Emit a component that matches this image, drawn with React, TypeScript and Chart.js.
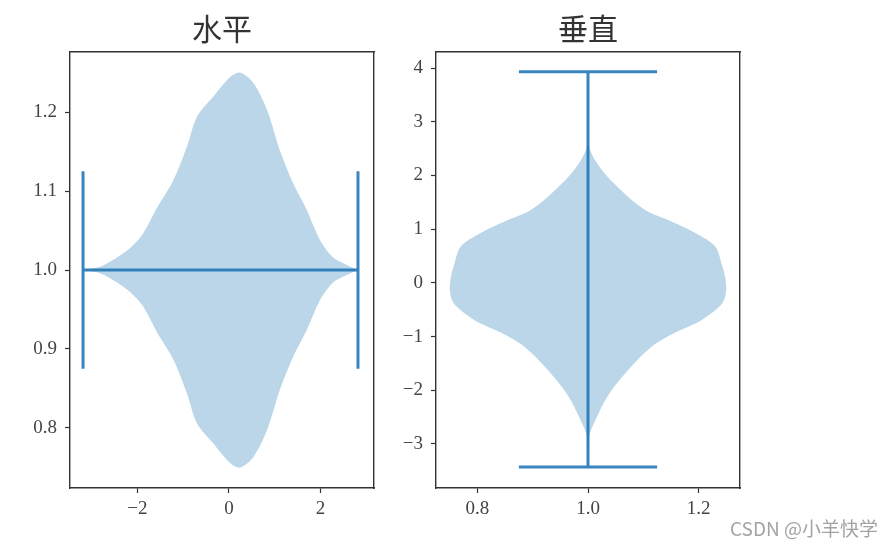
import { useEffect, useRef } from "react";
import { Chart, registerables } from "chart.js";

Chart.register(...registerables);

// horizontal violin (left): positions along x, half widths around y = 1
const horizCenter = 1;
const horizPositions = [-3.19, -2.82, -2.5, -2.16, -1.88, -1.57, -1.22, -0.92, -0.7, -0.35, 0.02, 0.24, 0.53, 0.83, 1.11, 1.4, 1.7, 1.99, 2.27, 2.55, 2.82];
const horizHalfWidths = [0, 0.004, 0.014, 0.028, 0.046, 0.079, 0.113, 0.156, 0.194, 0.219, 0.244, 0.25, 0.237, 0.203, 0.152, 0.11, 0.076, 0.038, 0.016, 0.007, 0];
const horizExtremes = [-3.19, 2.82];
const horizXTicks = [-2, 0, 2];
const horizYTicks = [0.8, 0.9, 1.0, 1.1, 1.2];

// vertical violin (right): positions along y, half widths around x = 1
const vertCenter = 1;
const vertPositions = [3.93, 3.2, 2.58, 2.3, 1.98, 1.61, 1.33, 1.17, 0.93, 0.68, 0.31, 0.11, -0.13, -0.38, -0.69, -0.93, -1.19, -1.62, -2.12, -2.61, -2.86, -3.43];
const vertHalfWidths = [0, 0, 0.001, 0.012, 0.035, 0.072, 0.108, 0.145, 0.194, 0.23, 0.243, 0.248, 0.25, 0.243, 0.206, 0.157, 0.115, 0.073, 0.035, 0.011, 0.002, 0];
const vertExtremes = [-3.43, 3.93];
const vertXTicks = [0.8, 1.0, 1.2];
const vertYTicks = [-3, -2, -1, 0, 1, 2, 3, 4];

const capHalf = 0.125;

const FILL = "rgba(31, 119, 180, 0.3)";
const LINE = "#3a84bf";
const AXIS = "#333333";
const tickFont = { family: "'Liberation Serif', 'DejaVu Serif', serif", size: 19 };

const minus = (s: string) => s.replace("-", "\u2212");

function lineSet(data: { x: number; y: number }[]) {
  return {
    data,
    showLine: true,
    borderColor: LINE,
    borderWidth: 3,
    pointRadius: 0,
    fill: false,
  };
}

function scaleCfg(pos: "left" | "bottom", min: number, max: number, ticks: number[], fmt: (v: number) => string, size: number) {
  const isX = pos === "bottom";
  return {
    type: "linear",
    position: pos,
    min,
    max,
    afterBuildTicks: (s: any) => {
      s.ticks = ticks.map((v) => ({ value: v }));
    },
    afterFit: (s: any) => {
      if (isX) s.height = size;
      else s.width = size;
    },
    ticks: {
      callback: (v: any) => fmt(Number(v)),
      font: tickFont,
      color: "#444444",
      padding: isX ? 5 : 8,
      maxRotation: 0,
      autoSkip: false,
    },
    grid: { drawOnChartArea: false, drawTicks: true, tickLength: 5, tickColor: AXIS, tickWidth: 1.2 },
    border: { display: true, color: AXIS, width: 1.4 },
  };
}

function frameCfg(pos: "top" | "right", min: number, max: number) {
  return {
    type: "linear",
    position: pos,
    min,
    max,
    afterFit: (s: any) => {
      if (pos === "top") s.height = 0;
      else s.width = 0;
    },
    ticks: { display: false },
    grid: { display: false },
    border: { display: true, color: AXIS, width: 1.4 },
  };
}

function makeOptions(title: string, x: any, y: any, x2: any, y2: any, padRight: number) {
  return {
    responsive: true,
    maintainAspectRatio: false,
    animation: false,
    layout: { padding: { left: 0, right: padRight, top: 0, bottom: 0 } },
    plugins: {
      legend: { display: false },
      tooltip: { enabled: false },
      title: {
        display: true,
        text: title,
        fullSize: false,
        color: "#333333",
        font: { family: "'Noto Sans CJK SC', sans-serif", size: 30, weight: "normal", lineHeight: 1.2 },
        padding: { top: 11, bottom: 5 },
      },
    },
    scales: { x, y, x2, y2 },
  };
}

function HorizontalViolin() {
  const ref = useRef<HTMLCanvasElement>(null);
  useEffect(() => {
    if (!ref.current) return;
    const upper = horizPositions.map((p, i) => ({ x: p, y: horizCenter + horizHalfWidths[i] }));
    const lower = horizPositions.map((p, i) => ({ x: p, y: horizCenter - horizHalfWidths[i] })).reverse();
    const [lo, hi] = horizExtremes;
    const chart = new Chart(ref.current, {
      type: "scatter",
      data: {
        datasets: [
          {
            data: [...upper, ...lower],
            showLine: true,
            borderWidth: 0,
            borderColor: "rgba(0,0,0,0)",
            backgroundColor: FILL,
            pointRadius: 0,
            tension: 0.3,
            fill: "shape",
          } as any,
          lineSet([{ x: lo, y: horizCenter }, { x: hi, y: horizCenter }]),
          lineSet([{ x: lo, y: horizCenter - capHalf }, { x: lo, y: horizCenter + capHalf }]),
          lineSet([{ x: hi, y: horizCenter - capHalf }, { x: hi, y: horizCenter + capHalf }]),
        ],
      },
      options: makeOptions(
        "水平",
        scaleCfg("bottom", -3.475, 3.17, horizXTicks, (v) => minus(String(v)), 59),
        scaleCfg("left", 0.724, 1.276, horizYTicks, (v) => v.toFixed(1), 70),
        frameCfg("top", -3.475, 3.17),
        frameCfg("right", 0.724, 1.276),
        16
      ) as any,
    });
    return () => chart.destroy();
  }, []);
  return (
    <div style={{ position: "absolute", left: 0, top: 0, width: 390, height: 547 }}>
      <canvas ref={ref}></canvas>
    </div>
  );
}

function VerticalViolin() {
  const ref = useRef<HTMLCanvasElement>(null);
  useEffect(() => {
    if (!ref.current) return;
    const right = vertPositions.map((p, i) => ({ x: vertCenter + vertHalfWidths[i], y: p }));
    const left = vertPositions.map((p, i) => ({ x: vertCenter - vertHalfWidths[i], y: p })).reverse();
    const [lo, hi] = vertExtremes;
    const chart = new Chart(ref.current, {
      type: "scatter",
      data: {
        datasets: [
          {
            data: [...right, ...left],
            showLine: true,
            borderWidth: 0,
            borderColor: "rgba(0,0,0,0)",
            backgroundColor: FILL,
            pointRadius: 0,
            tension: 0.3,
            fill: "shape",
          } as any,
          lineSet([{ x: vertCenter, y: lo }, { x: vertCenter, y: hi }]),
          lineSet([{ x: vertCenter - capHalf, y: lo }, { x: vertCenter + capHalf, y: lo }]),
          lineSet([{ x: vertCenter - capHalf, y: hi }, { x: vertCenter + capHalf, y: hi }]),
        ],
      },
      options: makeOptions(
        "垂直",
        scaleCfg("bottom", 0.725, 1.275, vertXTicks, (v) => v.toFixed(1), 59),
        scaleCfg("left", -3.82, 4.3, vertYTicks, (v) => minus(String(v)), 46),
        frameCfg("top", 0.725, 1.275),
        frameCfg("right", -3.82, 4.3),
        156
      ) as any,
    });
    return () => chart.destroy();
  }, []);
  return (
    <div style={{ position: "absolute", left: 390, top: 0, width: 506, height: 547 }}>
      <canvas ref={ref}></canvas>
    </div>
  );
}

export default function App() {
  return (
    <div style={{ position: "absolute", left: 0, top: 0, width: 896, height: 547, background: "#ffffff", overflow: "hidden" }}>
      <HorizontalViolin />
      <VerticalViolin />
      <div
        style={{
          position: "absolute",
          left: 730,
          top: 514,
          fontFamily: "'Noto Sans CJK SC', sans-serif",
          fontSize: 19,
          color: "#a3a3a3",
          whiteSpace: "nowrap",
        }}
      >
        CSDN @小羊快学
      </div>
    </div>
  );
}
